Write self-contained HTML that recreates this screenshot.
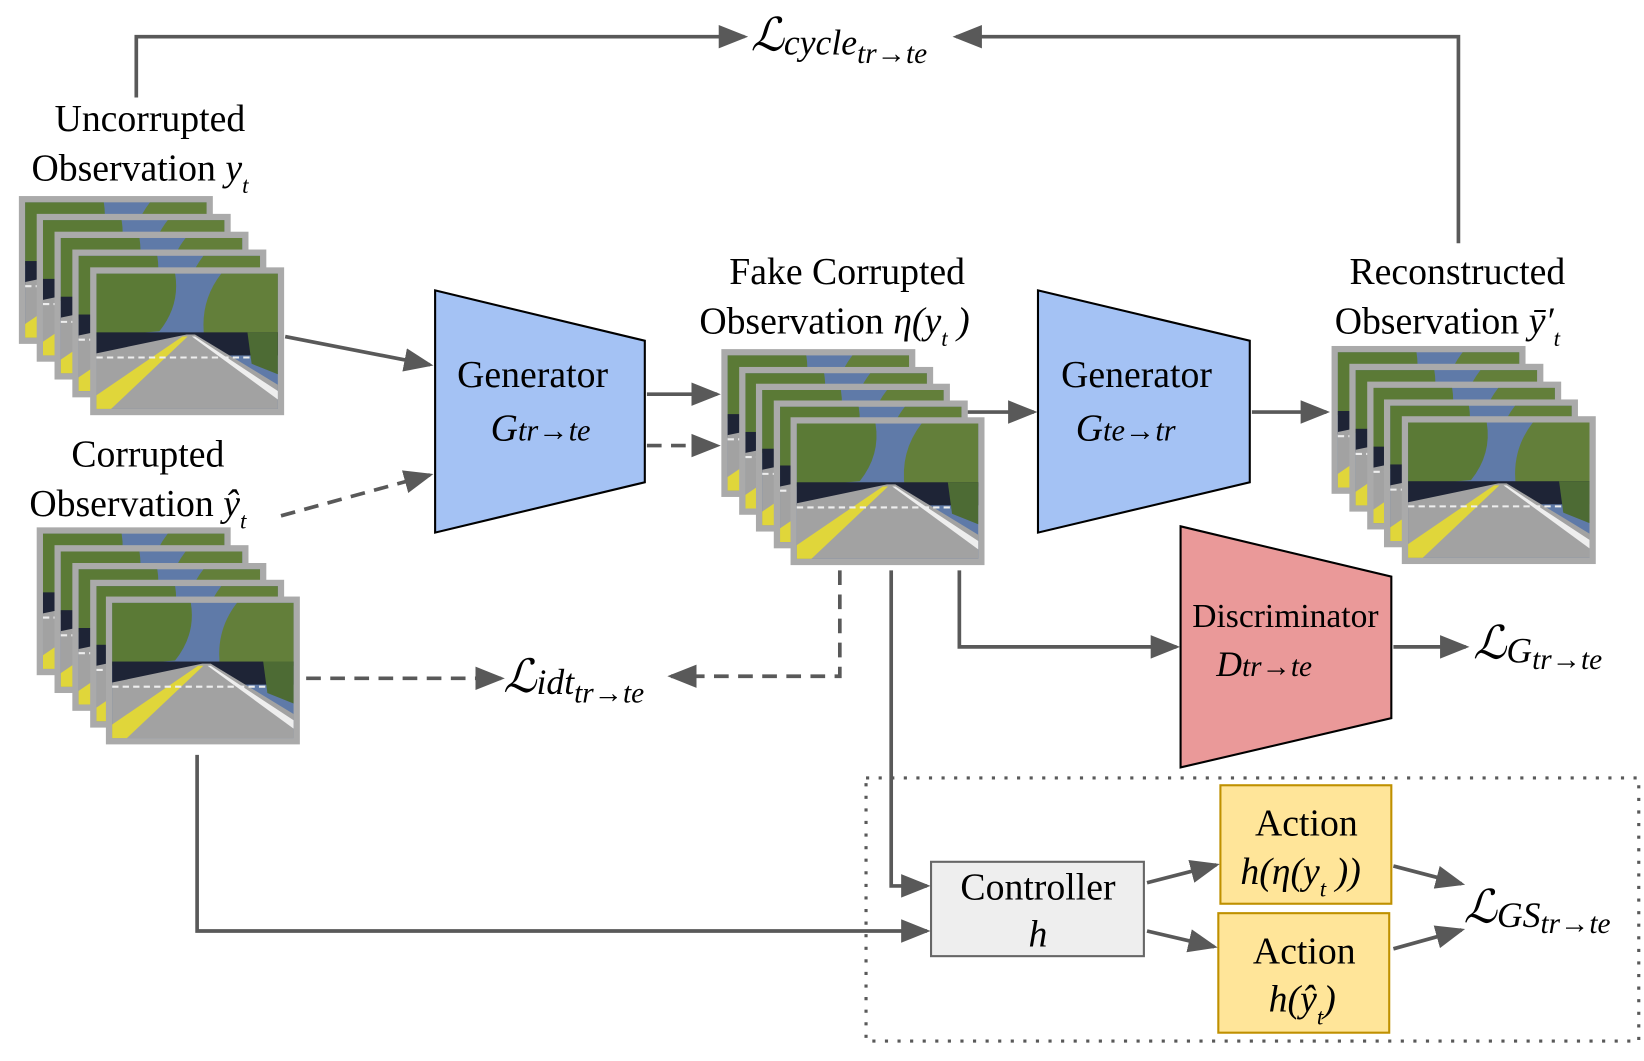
<!DOCTYPE html>
<html><head><meta charset="utf-8"><style>
html,body{margin:0;padding:0;background:#fff;}
svg{display:block;}
text{font-family:"Liberation Serif","DejaVu Serif","Noto Serif CJK SC",serif;fill:#000;}
.it{font-style:italic;}
</style></head><body>
<svg width="1644" height="1061" viewBox="0 0 1568 1012" preserveAspectRatio="none" xmlns="http://www.w3.org/2000/svg">
<defs>
<marker id="ah" markerWidth="8" markerHeight="8" refX="7" refY="4" orient="auto" markerUnits="strokeWidth">
<path d="M0,0.8 L8,4 L0,7.2 z" fill="#595959"/></marker>
<g id="fr">
<rect x="0" y="0" width="185" height="141" fill="#aaaaaa"/>
<rect x="6" y="6" width="173" height="129" fill="#5f7aa8"/>
<path d="M6,6 h75 q5,30 -15,55 l-60,5 z" fill="#5b7a36"/>
<path d="M125,6 h54 v60 l-70,2 q-5,-35 16,-62z" fill="#637f3a"/>
<rect x="6" y="62" width="173" height="22" fill="#1e2436"/>
<path d="M150,62 h29 v40 l-25,-10z" fill="#4d6b34"/>
<path d="M6,82 L92,64 L100,64 L179,112 L179,135 L6,135 z" fill="#a2a2a2"/>
<path d="M6,122 L88,66 L93,66 L20,135 L6,135z" fill="#e0d63a"/>
<path d="M100,66 L179,118 L179,126 L97,66z" fill="#eee"/>
<path d="M6,86 h150" stroke="#eee" stroke-width="2" stroke-dasharray="6,4"/>
</g>
</defs>

<g>
<use href="#fr" x="18" y="187"/><use href="#fr" x="35" y="204"/><use href="#fr" x="52" y="221"/><use href="#fr" x="69" y="238"/><use href="#fr" x="86" y="255"/>
<use href="#fr" x="35" y="503"/><use href="#fr" x="52" y="520"/><use href="#fr" x="69" y="537"/><use href="#fr" x="86" y="553"/><use href="#fr" x="101" y="569"/>
<use href="#fr" x="688" y="333"/><use href="#fr" x="705" y="350"/><use href="#fr" x="721" y="366"/><use href="#fr" x="738" y="382"/><use href="#fr" x="754" y="398"/>
<use href="#fr" x="1270" y="330"/><use href="#fr" x="1287" y="347"/><use href="#fr" x="1304" y="364"/><use href="#fr" x="1320" y="381"/><use href="#fr" x="1337" y="397"/>
</g>

<polygon points="415,277 615,325 615,460 415,508" fill="#a4c2f4" stroke="#000" stroke-width="2"/>
<polygon points="990,277 1192,325 1192,460 990,508" fill="#a4c2f4" stroke="#000" stroke-width="2"/>
<polygon points="1126,502 1327,550 1327,685 1126,732" fill="#ea9999" stroke="#000" stroke-width="2"/>
<rect x="826" y="742" width="737" height="251" fill="none" stroke="#595959" stroke-width="3" stroke-dasharray="3,9"/>
<rect x="888" y="822" width="203" height="90" fill="#eeeeee" stroke="#666" stroke-width="2"/>
<rect x="1164" y="749" width="163" height="113" fill="#ffe599" stroke="#bf9000" stroke-width="2"/>
<rect x="1162" y="871" width="163" height="114" fill="#ffe599" stroke="#bf9000" stroke-width="2"/>

<g stroke="#595959" stroke-width="3.5" fill="none">
<polyline points="130,93 130,35 710,35" marker-end="url(#ah)"/>
<polyline points="1391,232 1391,35 912,35" marker-end="url(#ah)"/>
<line x1="272" y1="321" x2="410" y2="348" marker-end="url(#ah)"/>
<line x1="268" y1="492" x2="410" y2="453" stroke-dasharray="14,9" marker-end="url(#ah)"/>
<line x1="617" y1="376" x2="684" y2="376" marker-end="url(#ah)"/>
<line x1="617" y1="425" x2="684" y2="425" stroke-dasharray="14,9" marker-end="url(#ah)"/>
<line x1="923" y1="393" x2="986" y2="393" marker-end="url(#ah)"/>
<line x1="1194" y1="393" x2="1265" y2="393" marker-end="url(#ah)"/>
<polyline points="915,544 915,617 1122,617" marker-end="url(#ah)"/>
<line x1="1329" y1="617" x2="1398" y2="617" marker-end="url(#ah)"/>
<polyline points="801,544 801,645 640,645" stroke-dasharray="14,9" marker-end="url(#ah)"/>
<line x1="292" y1="647" x2="478" y2="647" stroke-dasharray="14,9" marker-end="url(#ah)"/>
<polyline points="850,544 850,845 884,845" marker-end="url(#ah)"/>
<polyline points="188,720 188,888 884,888" marker-end="url(#ah)"/>
<line x1="1094" y1="842" x2="1160" y2="825" marker-end="url(#ah)"/>
<line x1="1094" y1="888" x2="1158" y2="903" marker-end="url(#ah)"/>
<line x1="1329" y1="826" x2="1394" y2="843" marker-end="url(#ah)"/>
<line x1="1329" y1="905" x2="1394" y2="887" marker-end="url(#ah)"/>
</g>

<g font-size="36">
<text x="143" y="125" text-anchor="middle">Uncorrupted</text>
<text x="30" y="172">Observation <tspan class="it">y</tspan><tspan class="it" font-size="22" dy="12">t</tspan></text>
<text x="141" y="445" text-anchor="middle">Corrupted</text>
<text x="28" y="492">Observation <tspan class="it">ŷ</tspan><tspan class="it" font-size="22" dy="12">t</tspan></text>
<text x="808" y="271" text-anchor="middle">Fake Corrupted</text>
<text x="667" y="318">Observation <tspan class="it">η(y</tspan><tspan class="it" font-size="22" dy="12">t</tspan><tspan class="it" dy="-12"> )</tspan></text>
<text x="1390" y="271" text-anchor="middle">Reconstructed</text>
<text x="1273" y="318">Observation <tspan class="it">ȳ′</tspan><tspan class="it" font-size="22" dy="12">t</tspan></text>
<text x="508" y="369" text-anchor="middle">Generator</text>
<text x="468" y="420" class="it">G<tspan font-size="29">tr→te</tspan></text>
<text x="1084" y="369" text-anchor="middle">Generator</text>
<text x="1026" y="420" class="it">G<tspan font-size="29">te→tr</tspan></text>
<text x="1226" y="598" text-anchor="middle" font-size="32">Discriminator</text>
<text x="1160" y="645" class="it" font-size="34">D<tspan font-size="28">tr→te</tspan></text>
<text x="990" y="858" text-anchor="middle">Controller</text>
<text x="990" y="903" text-anchor="middle" class="it">h</text>
<text x="1246" y="797" text-anchor="middle">Action</text>
<text x="1183" y="843" class="it">h(η(y<tspan font-size="22" dy="12">t</tspan><tspan dy="-12"> ))</tspan></text>
<text x="1244" y="919" text-anchor="middle">Action</text>
<text x="1210" y="965" class="it">h(ŷ<tspan font-size="22" dy="12">t</tspan><tspan dy="-12">)</tspan></text>
</g>
<g font-size="44">
<text x="716" y="48" class="it">ℒ<tspan font-size="34" dy="4">cycle</tspan><tspan font-size="28" dy="8">tr→te</tspan></text>
<text x="480" y="660" class="it">ℒ<tspan font-size="34" dy="2">idt</tspan><tspan font-size="28" dy="8">tr→te</tspan></text>
<text x="1405" y="628" class="it">ℒ<tspan font-size="34" dy="4">G</tspan><tspan font-size="28" dy="6">tr→te</tspan></text>
<text x="1396" y="880" class="it">ℒ<tspan font-size="34" dy="4">GS</tspan><tspan font-size="28" dy="6">tr→te</tspan></text>
</g>
</svg>
</body></html>
